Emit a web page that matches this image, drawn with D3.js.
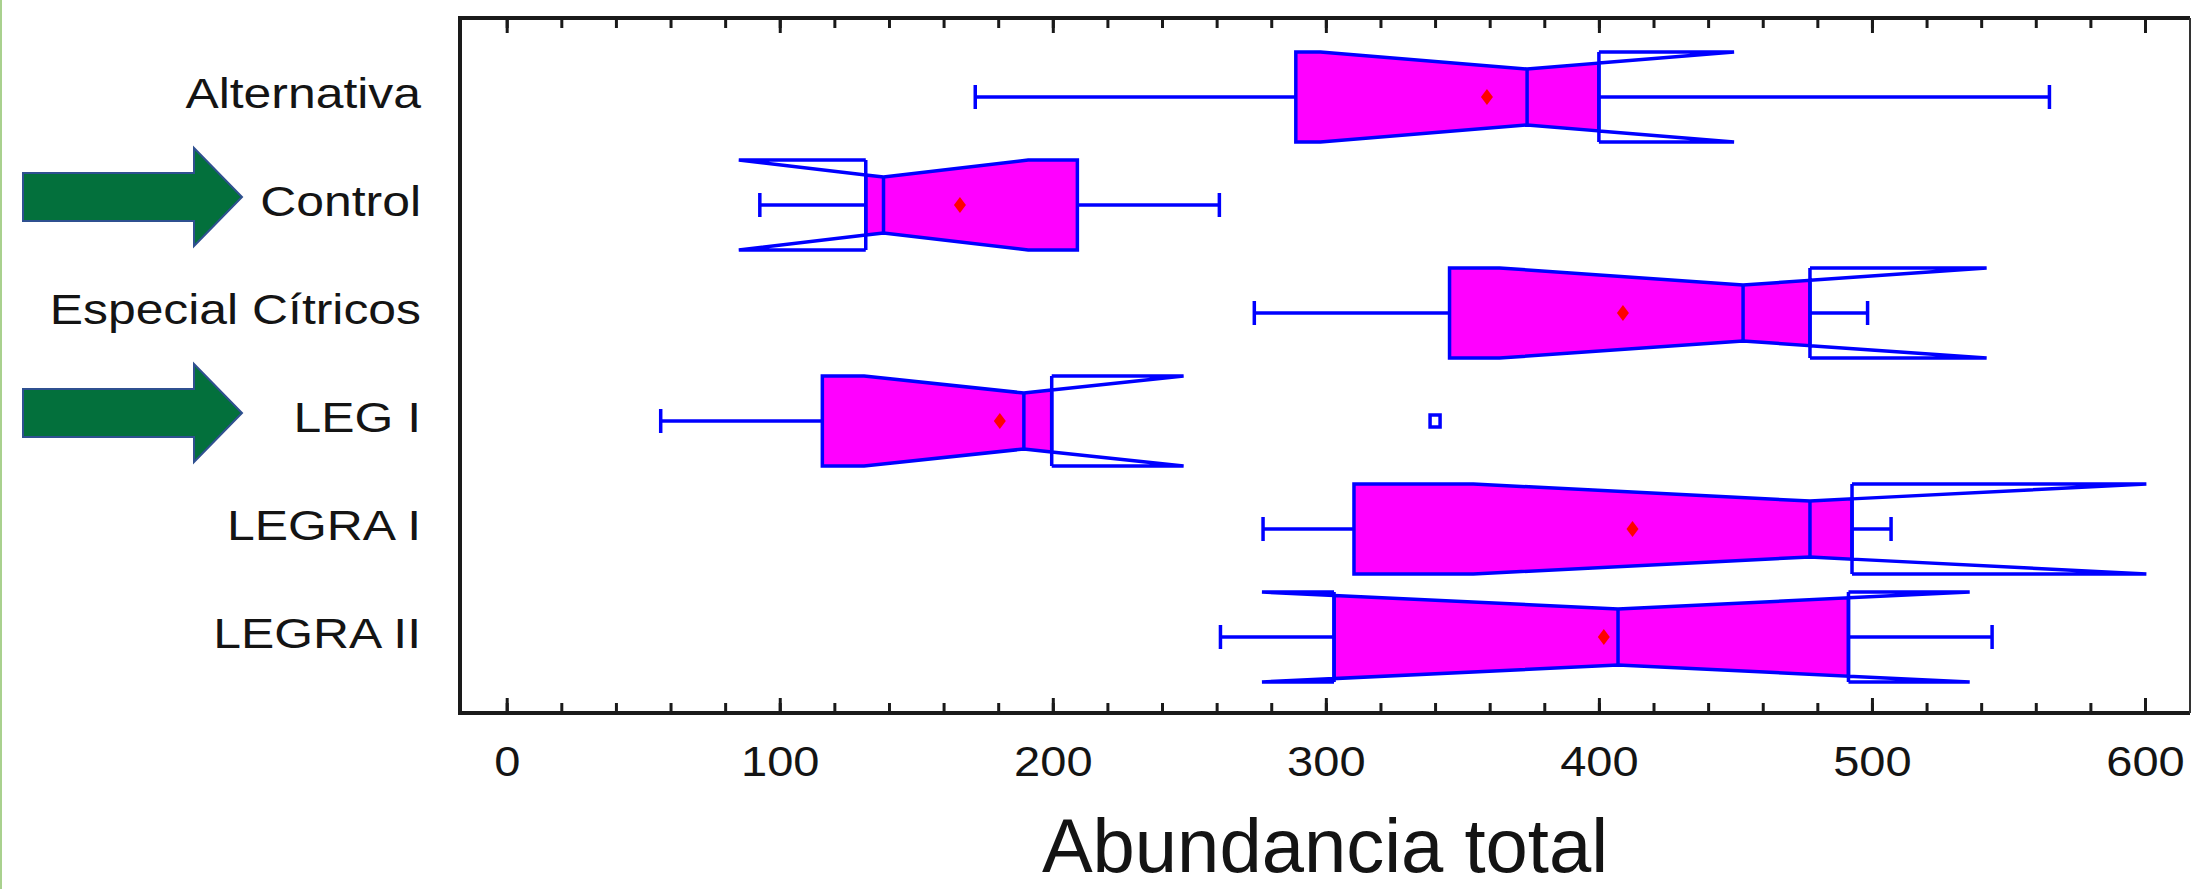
<!DOCTYPE html>
<html>
<head>
<meta charset="utf-8">
<script src="https://cdn.jsdelivr.net/npm/d3@7/dist/d3.min.js"></script>
<style>
  html, body { margin: 0; padding: 0; background: #ffffff; }
  svg { display: block; }
</style>
</head>
<body>
<svg id="chart" width="2192" height="889"></svg>
<script>
// ---------------- data ----------------
const categories  = ["Alternativa", "Control", "Especial Cítricos", "LEG I", "LEGRA I", "LEGRA II"];
const whiskerLow  = [171.6, 92.7, 273.8, 56.4, 277.0, 261.4];
const q1          = [289.0, 131.5, 345.3, 115.6, 310.3, 303.0];
const medians     = [373.7, 138.0, 452.8, 189.4, 477.3, 407.0];
const q3          = [400.0, 209.0, 477.3, 199.6, 492.7, 491.4];
const notchLow    = [298.0, 85.0, 363.6, 130.9, 354.0, 276.6];
const notchHigh   = [449.5, 191.0, 542.0, 247.9, 600.5, 535.8];
const whiskerHigh = [565.0, 261.0, 498.4, 199.6, 507.0, 544.0];
const means       = [359.0, 166.0, 408.8, 180.6, 412.3, 401.8];
const outliers    = [[], [], [], [340.0], [], []];
const majorTicks  = [0, 100, 200, 300, 400, 500, 600];
const minorTicks  = d3.range(0, 601, 20);
const highlighted = ["Control", "LEG I"];
const xTitle = "Abundancia total";

// ---------------- layout ----------------
const svg = d3.select("#chart");
const frame = { left: 460, top: 18, right: 2190, bottom: 713 };
const x = d3.scaleLinear().domain([0, 600]).range([506.7, 2145]);
const y = d3.scalePoint().domain(categories).range([97, 637]);
const H = 45, IND = 17, CAP = 12, SW = 3.5;
const BLUE = "#0000ff", MAG = "#ff00ff", RED = "#ff0000";

// left page accent line
svg.append("rect").attr("x", 0).attr("y", 0).attr("width", 2).attr("height", 889).attr("fill", "#a9d18e");

// ---------------- axes ----------------
const bottomMinor = d3.axisBottom(x).tickValues(minorTicks).tickSizeInner(-10).tickSizeOuter(0).tickFormat("");
const bottomMajor = d3.axisBottom(x).tickValues(majorTicks).tickSizeInner(-15).tickSizeOuter(0).tickFormat(d3.format("d"));
const topMinor = d3.axisTop(x).tickValues(minorTicks).tickSizeInner(-10).tickSizeOuter(0).tickFormat("");
const topMajor = d3.axisTop(x).tickValues(majorTicks).tickSizeInner(-15).tickSizeOuter(0).tickFormat("");

function styleAxis(g) {
  g.select(".domain").remove();
  g.selectAll(".tick line").attr("stroke", "#1a1a1a").attr("stroke-width", 3);
}
svg.append("g").attr("transform", `translate(0,${frame.bottom})`).call(bottomMinor).call(styleAxis);
const bMaj = svg.append("g").attr("transform", `translate(0,${frame.bottom})`).call(bottomMajor).call(styleAxis);
bMaj.selectAll(".tick text")
  .attr("y", 0).attr("dy", 0)
  .attr("transform", "translate(0,63) scale(1.12,1)")
  .attr("font-family", "'Liberation Sans', Arial, sans-serif")
  .attr("font-size", 42)
  .attr("fill", "#141414");
svg.append("g").attr("transform", `translate(0,${frame.top})`).call(topMinor).call(styleAxis);
svg.append("g").attr("transform", `translate(0,${frame.top})`).call(topMajor).call(styleAxis);

const yAxis = d3.axisLeft(y).tickSize(0).tickPadding(0);
const yG = svg.append("g").attr("transform", `translate(${frame.left},0)`).call(yAxis);
yG.select(".domain").remove();
yG.selectAll(".tick text")
  .attr("x", 0).attr("dy", 0)
  .attr("transform", "translate(-39,10) scale(1.16,1)")
  .attr("text-anchor", "end")
  .attr("font-family", "'Liberation Sans', Arial, sans-serif")
  .attr("font-size", 43)
  .attr("fill", "#141414");

// frame
svg.append("path")
  .attr("d", `M${frame.right},${frame.top} L${frame.left},${frame.top} L${frame.left},${frame.bottom} L${frame.right},${frame.bottom}`)
  .attr("fill", "none").attr("stroke", "#1a1a1a").attr("stroke-width", 4);
svg.append("line")
  .attr("x1", frame.right).attr("x2", frame.right).attr("y1", frame.top).attr("y2", frame.bottom)
  .attr("stroke", "#333").attr("stroke-width", 2);

// x title
svg.append("text")
  .attr("x", (frame.left + frame.right) / 2).attr("y", 872)
  .attr("text-anchor", "middle")
  .attr("font-family", "'Liberation Sans', Arial, sans-serif")
  .attr("font-size", 76)
  .attr("fill", "#141414")
  .text(xTitle);

// ---------------- boxes ----------------
const plot = svg.append("g");
categories.forEach((cat, i) => {
  const cy = y(cat);
  const a = q1[i], b = q3[i], m = medians[i], nl = notchLow[i], nh = notchHigh[i];
  const half = v => {
    if (v <= nl || v >= nh) return H;
    const t = v < m ? (v - nl) / (m - nl) : (nh - v) / (nh - m);
    return H - IND * t;
  };
  let xs = [a, m, b];
  if (nl > a && nl < b) xs.push(nl);
  if (nh > a && nh < b) xs.push(nh);
  xs = xs.sort((p, q) => p - q);
  const top = xs.map(v => [x(v), cy - half(v)]);
  const bot = xs.slice().reverse().map(v => [x(v), cy + half(v)]);
  const g = plot.append("g");

  // whiskers
  if (whiskerLow[i] < a) {
    g.append("line").attr("x1", x(whiskerLow[i])).attr("x2", x(a)).attr("y1", cy).attr("y2", cy)
      .attr("stroke", BLUE).attr("stroke-width", SW);
    g.append("line").attr("x1", x(whiskerLow[i])).attr("x2", x(whiskerLow[i])).attr("y1", cy - CAP).attr("y2", cy + CAP)
      .attr("stroke", BLUE).attr("stroke-width", SW);
  }
  if (whiskerHigh[i] > b) {
    g.append("line").attr("x1", x(b)).attr("x2", x(whiskerHigh[i])).attr("y1", cy).attr("y2", cy)
      .attr("stroke", BLUE).attr("stroke-width", SW);
    g.append("line").attr("x1", x(whiskerHigh[i])).attr("x2", x(whiskerHigh[i])).attr("y1", cy - CAP).attr("y2", cy + CAP)
      .attr("stroke", BLUE).attr("stroke-width", SW);
  }

  // notched box
  g.append("path")
    .attr("d", d3.line()(top.concat(bot)) + "Z")
    .attr("fill", MAG).attr("stroke", BLUE).attr("stroke-width", SW).attr("stroke-linejoin", "miter");

  // notch wedges outside the box
  if (nh > b) {
    const hb = half(b);
    g.append("path")
      .attr("d", `M${x(b)},${cy - H} L${x(nh)},${cy - H} L${x(b)},${cy - hb} M${x(b)},${cy + H} L${x(nh)},${cy + H} L${x(b)},${cy + hb} M${x(b)},${cy - H} L${x(b)},${cy + H}`)
      .attr("fill", "none").attr("stroke", BLUE).attr("stroke-width", SW);
  }
  if (nl < a) {
    const ha = half(a);
    g.append("path")
      .attr("d", `M${x(a)},${cy - H} L${x(nl)},${cy - H} L${x(a)},${cy - ha} M${x(a)},${cy + H} L${x(nl)},${cy + H} L${x(a)},${cy + ha} M${x(a)},${cy - H} L${x(a)},${cy + H}`)
      .attr("fill", "none").attr("stroke", BLUE).attr("stroke-width", SW);
  }

  // median
  g.append("line").attr("x1", x(m)).attr("x2", x(m)).attr("y1", cy - half(m)).attr("y2", cy + half(m))
    .attr("stroke", BLUE).attr("stroke-width", SW);

  // mean
  const mx = x(means[i]);
  g.append("path")
    .attr("d", `M${mx},${cy - 8} L${mx + 6},${cy} L${mx},${cy + 8} L${mx - 6},${cy} Z`)
    .attr("fill", RED);

  // outliers
  outliers[i].forEach(o => {
    g.append("rect").attr("x", x(o) - 5).attr("y", cy - 6).attr("width", 10).attr("height", 12)
      .attr("fill", "none").attr("stroke", BLUE).attr("stroke-width", SW);
  });
});

// ---------------- highlight arrows ----------------
highlighted.forEach(cat => {
  const ty = y(cat) - 8;
  const pts = [[23, ty - 24], [194, ty - 24], [194, ty - 49], [242, ty], [194, ty + 49], [194, ty + 24], [23, ty + 24]];
  svg.append("path")
    .attr("d", d3.line()(pts) + "Z")
    .attr("fill", "#03703c").attr("stroke", "#2f5090").attr("stroke-width", 2);
});
</script>
</body>
</html>
